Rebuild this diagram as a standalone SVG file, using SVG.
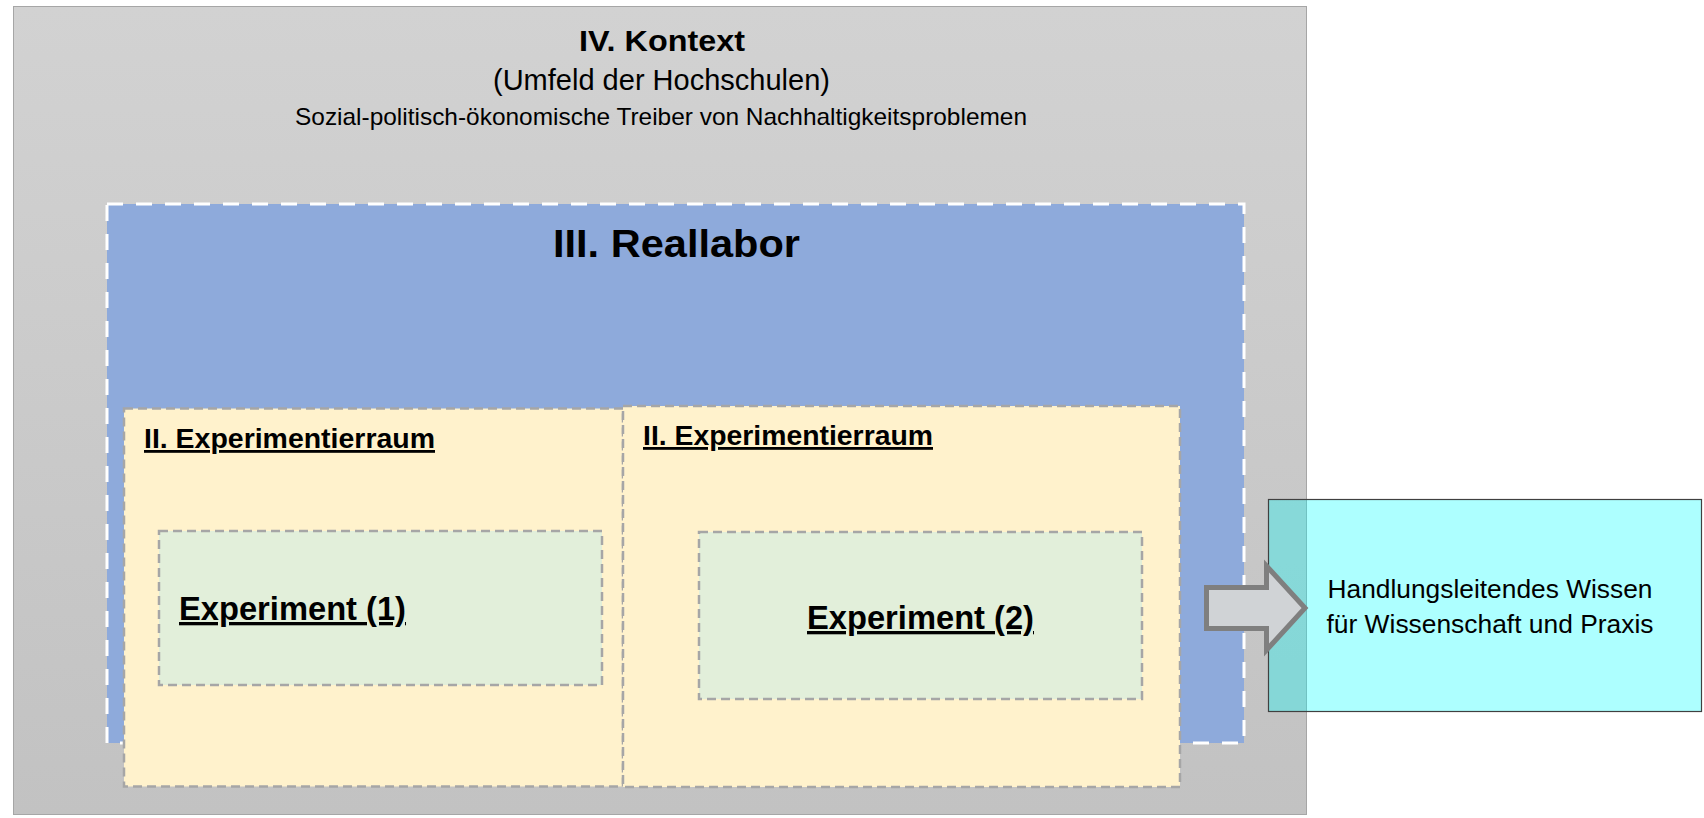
<svg xmlns="http://www.w3.org/2000/svg" width="1704" height="818" viewBox="0 0 1704 818">
  <defs>
    <linearGradient id="gradGray" x1="0" y1="0" x2="0" y2="1">
      <stop offset="0" stop-color="#d2d2d2"/>
      <stop offset="1" stop-color="#c2c2c2"/>
    </linearGradient>
  </defs>
  <style>
    text { font-family: "Liberation Sans", Arial, sans-serif; fill: #000000; }
    .b { font-weight: bold; }
    .u { text-decoration: underline; }
    .dashed { stroke: #a6a6a6; stroke-width: 2.5; stroke-dasharray: 9 5; }
  </style>
  <rect width="1704" height="818" fill="#ffffff"/>

  <g id="kontext">
    <rect x="13.5" y="6.5" width="1293" height="808" fill="url(#gradGray)" stroke="#a6a6a6" stroke-width="1"/>
    <text class="b" x="662" y="51" font-size="30" text-anchor="middle" textLength="166" lengthAdjust="spacingAndGlyphs">IV. Kontext</text>
    <text x="661.5" y="90" font-size="29" text-anchor="middle" textLength="337" lengthAdjust="spacingAndGlyphs">(Umfeld der Hochschulen)</text>
    <text x="661" y="125" font-size="24" text-anchor="middle" textLength="732" lengthAdjust="spacingAndGlyphs">Sozial-politisch-ökonomische Treiber von Nachhaltigkeitsproblemen</text>
  </g>

  <g id="reallabor">
    <rect x="107" y="204" width="1137" height="539" fill="#8eaadb" stroke="#ffffff" stroke-width="3" stroke-dasharray="16 13"/>
    <text class="b" x="676.5" y="257" font-size="38" text-anchor="middle" textLength="247" lengthAdjust="spacingAndGlyphs">III. Reallabor</text>
  </g>

  <g id="experimentierraum1">
    <rect x="124" y="408.5" width="499" height="378" fill="#fff2cc" class="dashed"/>
    <text class="b u" x="144" y="448" font-size="28" textLength="291" lengthAdjust="spacingAndGlyphs">II. Experimentierraum</text>
  </g>

  <g id="experimentierraum2">
    <rect x="623" y="406" width="557" height="381" fill="#fff2cc" class="dashed"/>
    <text class="b u" x="643" y="445" font-size="28" textLength="290" lengthAdjust="spacingAndGlyphs">II. Experimentierraum</text>
  </g>

  <g id="experiment1">
    <rect x="159" y="531" width="443" height="154" fill="#e2efda" class="dashed"/>
    <text class="b u" x="179" y="620" font-size="33" textLength="227" lengthAdjust="spacingAndGlyphs">Experiment (1)</text>
  </g>

  <g id="experiment2">
    <rect x="699" y="532" width="443" height="167" fill="#e2efda" class="dashed"/>
    <text class="b u" x="920.5" y="629" font-size="33" text-anchor="middle" textLength="227" lengthAdjust="spacingAndGlyphs">Experiment (2)</text>
  </g>

  <g id="wissen">
    <rect x="1268.5" y="499.5" width="433" height="212" fill="#00ffff" fill-opacity="0.32" stroke="#404040" stroke-width="1.2"/>
    <text x="1490" y="598" font-size="26" text-anchor="middle" textLength="325" lengthAdjust="spacingAndGlyphs">Handlungsleitendes Wissen</text>
    <text x="1490" y="633" font-size="26" text-anchor="middle" textLength="327" lengthAdjust="spacingAndGlyphs">für Wissenschaft und Praxis</text>
  </g>

  <g id="connectors">
    <path d="M1206.5,587.5 H1266.5 V566 L1305,608 L1266.5,650 V628.5 H1206.5 Z" fill="#d0d3d6" stroke="#7f7f7f" stroke-width="5" stroke-linejoin="miter"/>
  </g>
</svg>
